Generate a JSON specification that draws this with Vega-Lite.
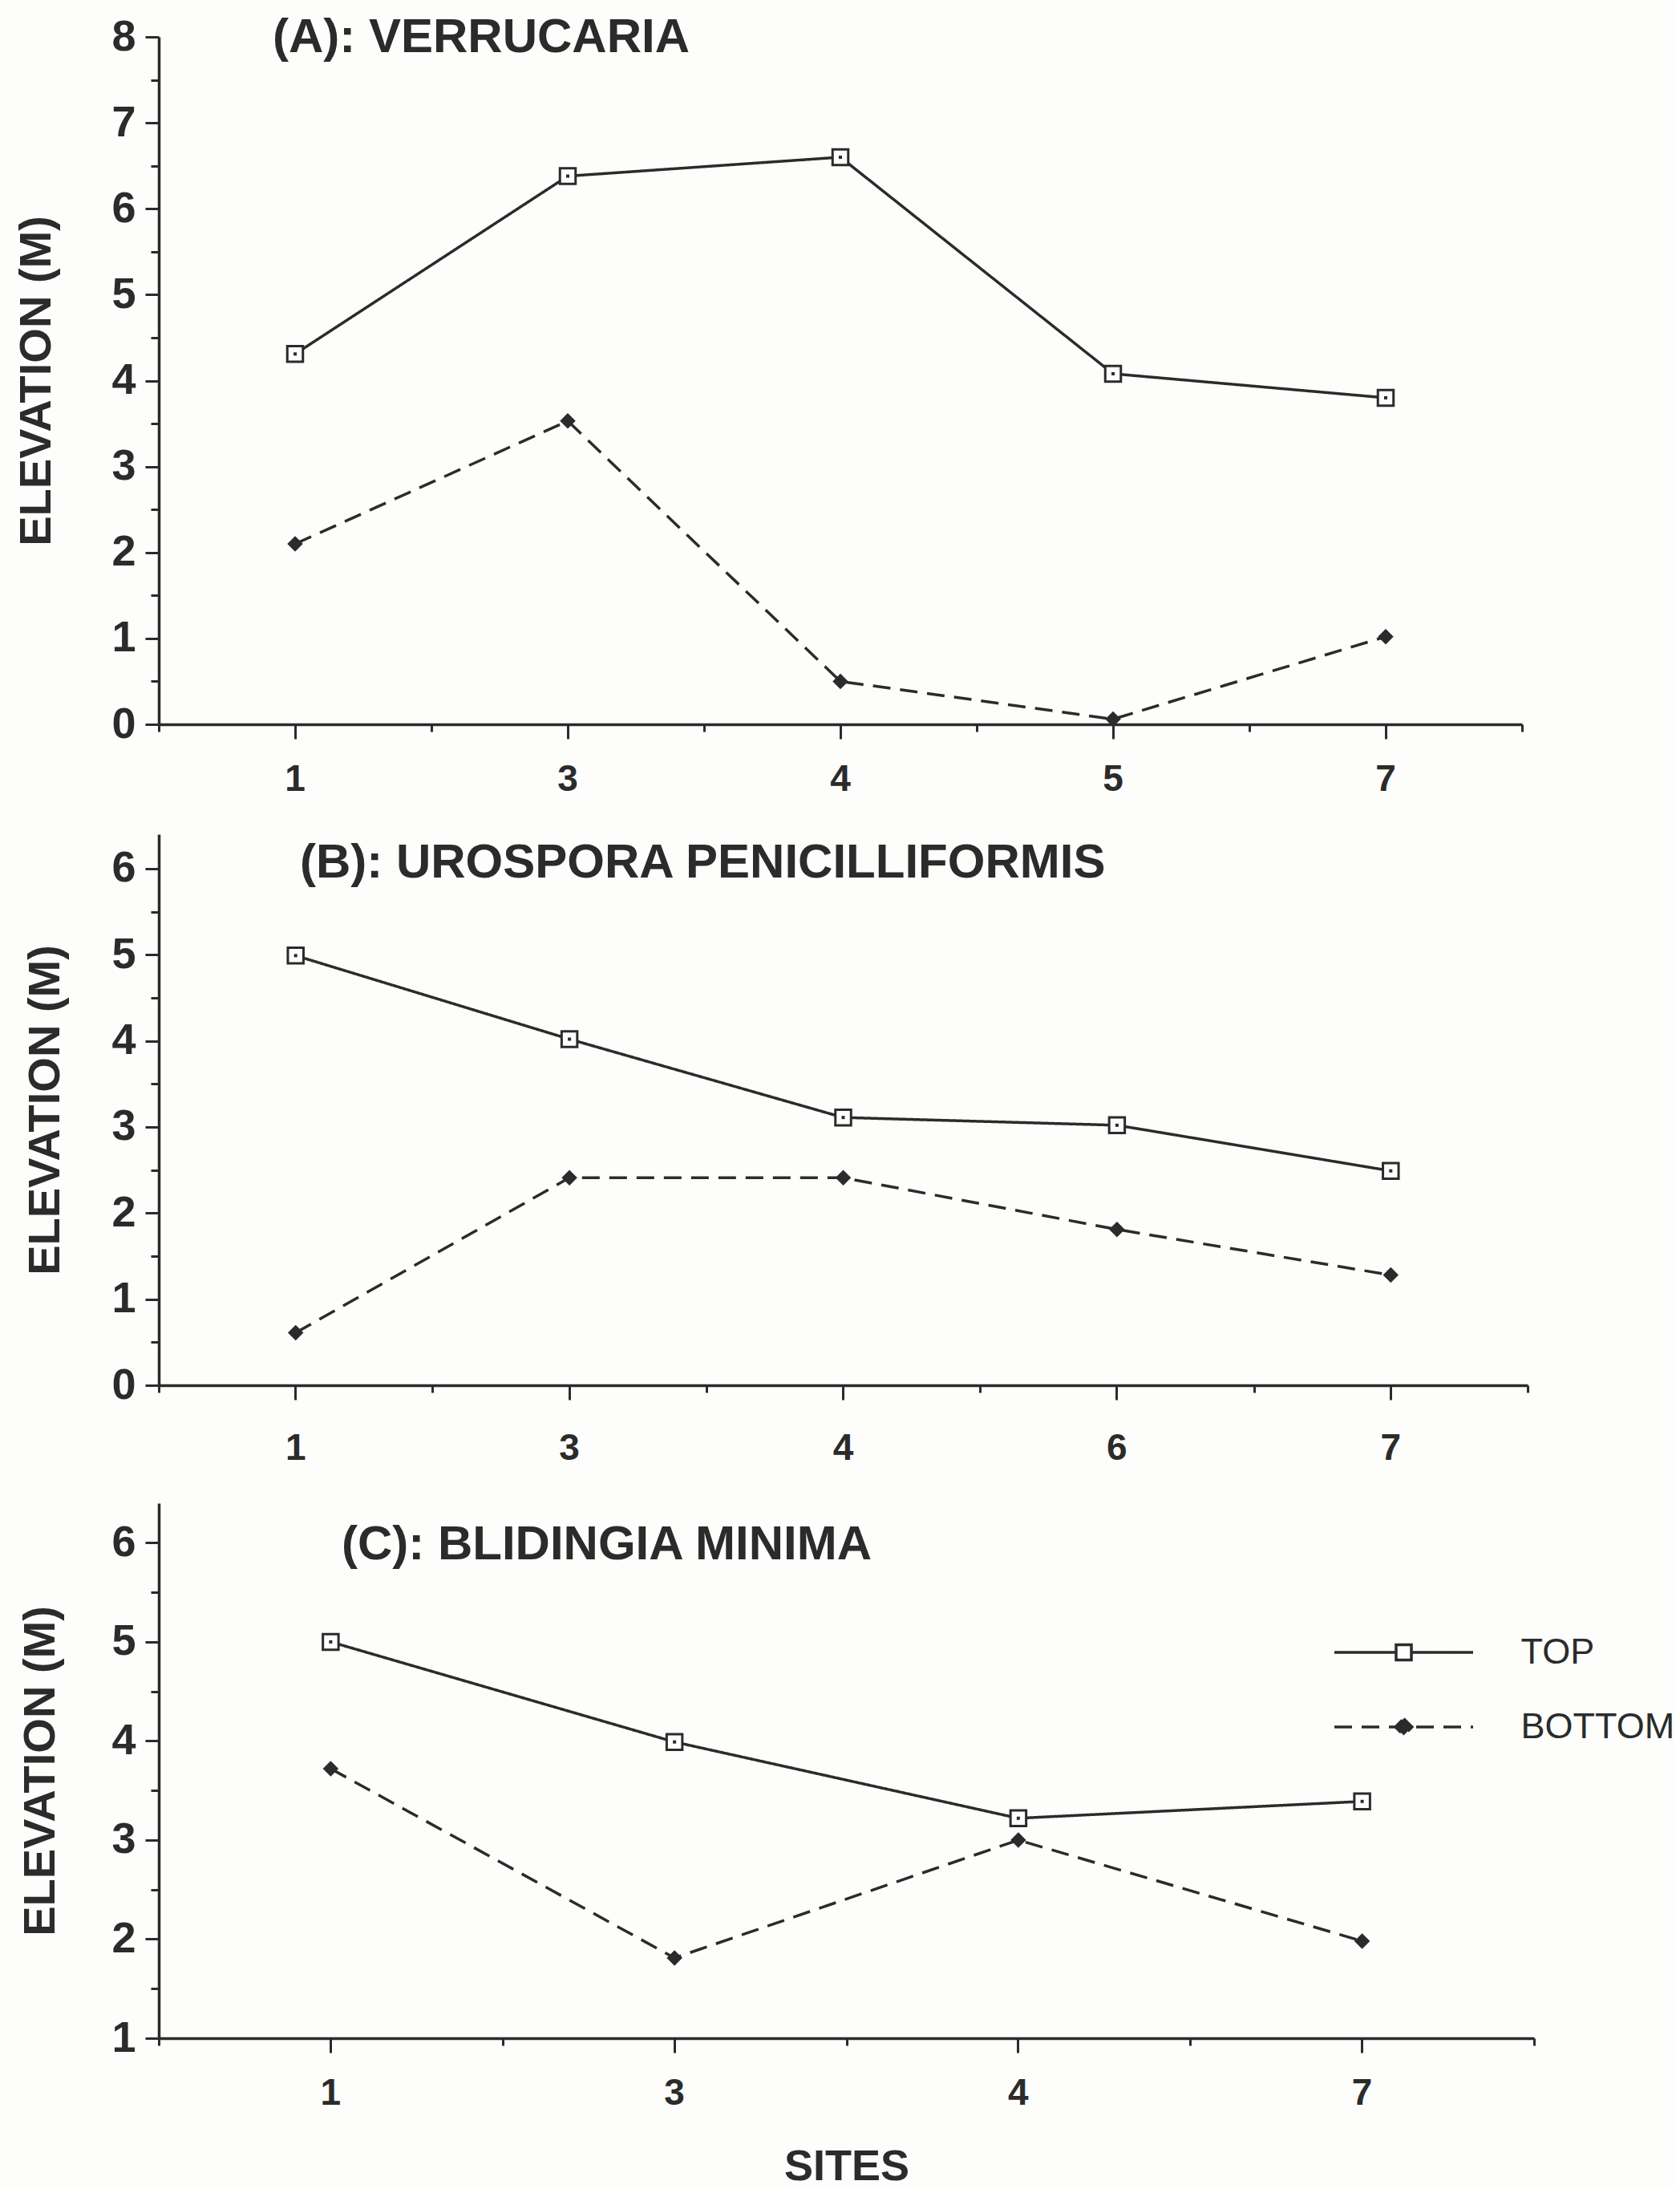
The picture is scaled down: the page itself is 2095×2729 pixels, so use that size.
{
  "$schema": "https://vega.github.io/schema/vega-lite/v6.json",
  "background": "#fdfdfb",
  "padding": {"left": 17, "top": 17, "right": 0, "bottom": 0},
  "spacing": 46,
  "datasets": {
    "A": [
      {"site": "1", "series": "TOP", "elevation": 4.31},
      {"site": "3", "series": "TOP", "elevation": 6.38},
      {"site": "4", "series": "TOP", "elevation": 6.6},
      {"site": "5", "series": "TOP", "elevation": 4.08},
      {"site": "7", "series": "TOP", "elevation": 3.8},
      {"site": "1", "series": "BOTTOM", "elevation": 2.1},
      {"site": "3", "series": "BOTTOM", "elevation": 3.53},
      {"site": "4", "series": "BOTTOM", "elevation": 0.5},
      {"site": "5", "series": "BOTTOM", "elevation": 0.06},
      {"site": "7", "series": "BOTTOM", "elevation": 1.02}
    ],
    "B": [
      {"site": "1", "series": "TOP", "elevation": 4.99},
      {"site": "3", "series": "TOP", "elevation": 4.02},
      {"site": "4", "series": "TOP", "elevation": 3.11},
      {"site": "6", "series": "TOP", "elevation": 3.02},
      {"site": "7", "series": "TOP", "elevation": 2.49},
      {"site": "1", "series": "BOTTOM", "elevation": 0.61},
      {"site": "3", "series": "BOTTOM", "elevation": 2.41},
      {"site": "4", "series": "BOTTOM", "elevation": 2.41},
      {"site": "6", "series": "BOTTOM", "elevation": 1.81},
      {"site": "7", "series": "BOTTOM", "elevation": 1.28}
    ],
    "C": [
      {"site": "1", "series": "TOP", "elevation": 5.0},
      {"site": "3", "series": "TOP", "elevation": 3.99},
      {"site": "4", "series": "TOP", "elevation": 3.22},
      {"site": "7", "series": "TOP", "elevation": 3.39},
      {"site": "1", "series": "BOTTOM", "elevation": 3.72},
      {"site": "3", "series": "BOTTOM", "elevation": 1.81},
      {"site": "4", "series": "BOTTOM", "elevation": 3.0},
      {"site": "7", "series": "BOTTOM", "elevation": 1.98}
    ]
  },
  "config": {
    "view": {"stroke": null},
    "font": "Liberation Sans",
    "axis": {
      "domainColor": "#2b2b2b", "domainWidth": 3.5,
      "tickColor": "#2b2b2b", "tickWidth": 3,
      "labelColor": "#2b2b2b", "labelFont": "Liberation Sans", "labelFontWeight": "bold",
      "titleColor": "#2b2b2b", "titleFont": "Liberation Sans", "titleFontWeight": "bold",
      "grid": false
    },
    "axisY": {"labelFontSize": 54, "labelPadding": 12, "titleFontSize": 56},
    "axisX": {"labelFontSize": 46, "labelPadding": 28, "tickSize": 18, "labelAngle": 0},
    "title": {"font": "Liberation Sans", "fontWeight": "bold", "fontSize": 60, "color": "#2b2b2b", "frame": "group", "anchor": "start", "baseline": "alphabetic"}
  },
  "resolve": {
    "scale": {"strokeDash": "independent"},
    "legend": {"strokeDash": "independent"}
  },
  "vconcat": [
    {
      "width": 1700,
      "height": 857,
      "data": {"name": "A"},
      "title": {"text": "(A):  VERRUCARIA", "dx": 142, "offset": -59},
      "encoding": {
        "y": {
          "field": "elevation", "type": "quantitative",
          "scale": {"domain": [0, 8], "nice": false, "zero": false},
          "axis": {
            "title": "ELEVATION  (M)", "titlePadding": 64,
            "values": [0, 0.5, 1, 1.5, 2, 2.5, 3, 3.5, 4, 4.5, 5, 5.5, 6, 6.5, 7, 7.5, 8],
            "labelExpr": "datum.value % 1 === 0 ? '' + datum.value : ''",
            "tickSize": {"condition": {"test": "datum.value % 1 !== 0", "value": 10}, "value": 17}
          }
        }
      },
      "layer": [
        {
          "mark": {"type": "line", "color": "#2b2b2b", "strokeWidth": 3.5},
          "encoding": {
            "x": {"field": "site", "type": "ordinal", "sort": null, "scale": {"type": "band", "paddingInner": 0, "paddingOuter": 0}, "axis": {"orient": "bottom", "title": null}},
            "strokeDash": {"field": "series", "type": "nominal", "scale": {"domain": ["TOP", "BOTTOM"], "range": [[1, 0], [22, 12]]}, "legend": null}
          }
        },
        {
          "transform": [{"filter": "datum.series === 'TOP'"}],
          "mark": {"type": "point", "shape": "square", "filled": true, "fill": "#fdfdfb", "stroke": "#2b2b2b", "strokeWidth": 3, "opacity": 1, "size": 380},
          "encoding": {
            "x": {"field": "site", "type": "ordinal", "sort": null, "axis": {"orient": "bottom", "title": null, "labels": false, "domain": false, "tickBand": "extent", "tickSize": 9}}
          }
        },
        {
          "transform": [{"filter": "datum.series === 'BOTTOM'"}],
          "mark": {"type": "point", "shape": "diamond", "filled": true, "color": "#2b2b2b", "opacity": 1, "size": 380},
          "encoding": {"x": {"field": "site", "type": "ordinal", "sort": null, "axis": null}}
        },
        {
          "transform": [{"filter": "datum.series === 'TOP'"}],
          "mark": {"type": "square", "color": "#2b2b2b", "size": 16, "opacity": 1},
          "encoding": {"x": {"field": "site", "type": "ordinal", "sort": null, "axis": null}}
        }
      ],
      "resolve": {"axis": {"x": "independent"}}
    },
    {
      "width": 1707,
      "height": 687,
      "data": {"name": "B"},
      "title": {"text": "(B):  UROSPORA  PENICILLIFORMIS", "dx": 176, "offset": -67},
      "encoding": {
        "y": {
          "field": "elevation", "type": "quantitative",
          "scale": {"domain": [0, 6.4], "nice": false, "zero": false},
          "axis": {
            "title": "ELEVATION  (M)", "titlePadding": 53,
            "values": [0, 0.5, 1, 1.5, 2, 2.5, 3, 3.5, 4, 4.5, 5, 5.5, 6],
            "labelExpr": "datum.value % 1 === 0 ? '' + datum.value : ''",
            "tickSize": {"condition": {"test": "datum.value % 1 !== 0", "value": 10}, "value": 17}
          }
        }
      },
      "layer": [
        {
          "mark": {"type": "line", "color": "#2b2b2b", "strokeWidth": 3.5},
          "encoding": {
            "x": {"field": "site", "type": "ordinal", "sort": null, "scale": {"type": "band", "paddingInner": 0, "paddingOuter": 0}, "axis": {"orient": "bottom", "title": null, "labelPadding": 38}},
            "strokeDash": {"field": "series", "type": "nominal", "scale": {"domain": ["TOP", "BOTTOM"], "range": [[1, 0], [22, 12]]}, "legend": null}
          }
        },
        {
          "transform": [{"filter": "datum.series === 'TOP'"}],
          "mark": {"type": "point", "shape": "square", "filled": true, "fill": "#fdfdfb", "stroke": "#2b2b2b", "strokeWidth": 3, "opacity": 1, "size": 380},
          "encoding": {
            "x": {"field": "site", "type": "ordinal", "sort": null, "axis": {"orient": "bottom", "title": null, "labels": false, "domain": false, "tickBand": "extent", "tickSize": 9}}
          }
        },
        {
          "transform": [{"filter": "datum.series === 'BOTTOM'"}],
          "mark": {"type": "point", "shape": "diamond", "filled": true, "color": "#2b2b2b", "opacity": 1, "size": 380},
          "encoding": {"x": {"field": "site", "type": "ordinal", "sort": null, "axis": null}}
        },
        {
          "transform": [{"filter": "datum.series === 'TOP'"}],
          "mark": {"type": "square", "color": "#2b2b2b", "size": 16, "opacity": 1},
          "encoding": {"x": {"field": "site", "type": "ordinal", "sort": null, "axis": null}}
        }
      ],
      "resolve": {"axis": {"x": "independent"}}
    },
    {
      "width": 1715,
      "height": 667,
      "data": {"name": "C"},
      "title": {"text": "(C):  BLIDINGIA  MINIMA", "dx": 228, "offset": -83},
      "encoding": {
        "y": {
          "field": "elevation", "type": "quantitative",
          "scale": {"domain": [1, 6.4], "nice": false, "zero": false},
          "axis": {
            "title": "ELEVATION  (M)", "titlePadding": 59,
            "values": [1, 1.5, 2, 2.5, 3, 3.5, 4, 4.5, 5, 5.5, 6],
            "labelExpr": "datum.value % 1 === 0 ? '' + datum.value : ''",
            "tickSize": {"condition": {"test": "datum.value % 1 !== 0", "value": 10}, "value": 17}
          }
        }
      },
      "layer": [
        {
          "mark": {"type": "line", "color": "#2b2b2b", "strokeWidth": 3.5},
          "encoding": {
            "x": {"field": "site", "type": "ordinal", "sort": null, "scale": {"type": "band", "paddingInner": 0, "paddingOuter": 0}, "axis": {"orient": "bottom", "title": "SITES", "titleFontSize": 54, "titlePadding": 42}},
            "strokeDash": {
              "field": "series", "type": "nominal",
              "scale": {"domain": ["TOP", "BOTTOM"], "range": [[1, 0], [22, 12]]},
              "legend": {
                "orient": "none", "legendX": 1466, "legendY": 154, "title": null, "padding": 0,
                "symbolType": {"expr": "datum.value === 'TOP' ? 'M-2.883,0H-0.317M0.317,0H2.883M-0.317,-0.317H0.317V0.317H-0.317Z' : 'M-2.883,0H2.883M0,-0.346L0.346,0L0,0.346L-0.346,0Z'"},
                "symbolFillColor": {"expr": "datum.value === 'TOP' ? '#fdfdfb' : '#2b2b2b'"},
                "symbolSize": 3600, "symbolStrokeWidth": 3.5, "symbolOffset": 54.5,
                "symbolStrokeColor": "#2b2b2b",
                "labelFont": "Liberation Sans", "labelFontSize": 45, "labelFontWeight": "normal", "labelLimit": 0,
                "labelColor": "#2b2b2b", "labelOffset": 114, "rowPadding": 38
              }
            }
          }
        },
        {
          "transform": [{"filter": "datum.series === 'TOP'"}],
          "mark": {"type": "point", "shape": "square", "filled": true, "fill": "#fdfdfb", "stroke": "#2b2b2b", "strokeWidth": 3, "opacity": 1, "size": 380},
          "encoding": {
            "x": {"field": "site", "type": "ordinal", "sort": null, "axis": {"orient": "bottom", "title": null, "labels": false, "domain": false, "tickBand": "extent", "tickSize": 9}}
          }
        },
        {
          "transform": [{"filter": "datum.series === 'BOTTOM'"}],
          "mark": {"type": "point", "shape": "diamond", "filled": true, "color": "#2b2b2b", "opacity": 1, "size": 380},
          "encoding": {"x": {"field": "site", "type": "ordinal", "sort": null, "axis": null}}
        },
        {
          "transform": [{"filter": "datum.series === 'TOP'"}],
          "mark": {"type": "square", "color": "#2b2b2b", "size": 16, "opacity": 1},
          "encoding": {"x": {"field": "site", "type": "ordinal", "sort": null, "axis": null}}
        }
      ],
      "resolve": {"axis": {"x": "independent"}}
    }
  ]
}
